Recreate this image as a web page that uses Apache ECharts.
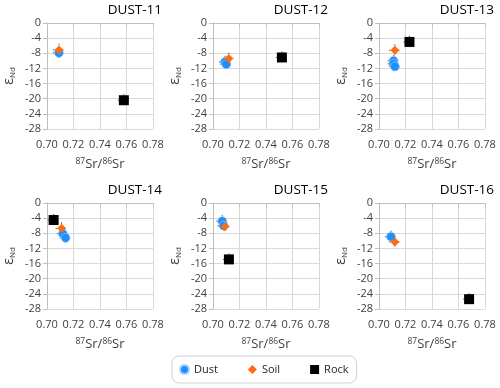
<!DOCTYPE html>
<html>
<head>
<meta charset="utf-8">
<script src="https://cdn.jsdelivr.net/npm/echarts@6/dist/echarts.min.js"></script>
<style>
	html, body { margin: 0; padding: 0; background: #fff; }
	#chart { width: 500px; height: 388px; }
</style>
</head>
<body>
<div id="chart"></div>
<script>
// panel titles
const panels = ['DUST-11', 'DUST-12', 'DUST-13', 'DUST-14', 'DUST-15', 'DUST-16'];
// [87Sr/86Sr, eNd] per panel
const dust = [
	[[0.709, -7.9]],
	[[0.709, -10.3], [0.710, -10.9]],
	[[0.711, -10.0], [0.711, -10.8], [0.712, -11.5]],
	[[0.712, -8.1], [0.714, -9.2]],
	[[0.707, -4.8], [0.708, -6.0]],
	[[0.709, -8.9]],
];
const soil = [
	[[0.709, -7.1]],
	[[0.712, -9.4]],
	[[0.712, -7.2]],
	[[0.711, -6.7]],
	[[0.709, -6.2]],
	[[0.712, -10.3]],
];
const rock = [
	[[0.758, -20.4]],
	[[0.752, -9.1]],
	[[0.723, -5.0]],
	[[0.705, -4.5]],
	[[0.712, -14.9]],
	[[0.768, -25.4]],
];
// error bars (2 sigma)
const srErr = 0.0045;
const ndErr = 1.6;
// axis ticks
const xTicks = [0.70, 0.72, 0.74, 0.76, 0.78];
const yTicks = [0, -4, -8, -12, -16, -20, -24, -28];

const lefts = [47, 213, 379];
const tops = [23, 203];
const font = '"Open Sans", "Noto Sans", sans-serif';
const labelColor = '#404040';
const colors = { Dust: '#1e8ffc', Soil: '#ff6a13', Rock: '#000000' };

const chart = echarts.init(document.getElementById('chart'));

const grids = [], xAxes = [], yAxes = [], titles = [], series = [];

panels.forEach((name, i) => {
	const col = i % 3, row = Math.floor(i / 3);
	grids.push({ left: lefts[col], top: tops[row], width: 106, height: 106 });
	titles.push({
		text: name,
		right: 500 - (lefts[col] + 115),
		top: tops[row] - 20,
		padding: 0,
		textStyle: { fontFamily: font, fontSize: 13.5, fontWeight: 'normal', color: '#000' },
	});
	xAxes.push({
		gridIndex: i,
		type: 'value',
		min: xTicks[0],
		max: xTicks[xTicks.length - 1],
		interval: 0.02,
		name: '{sup|87}{b|Sr/}{sup|86}{b|Sr}',
		nameLocation: 'middle',
		nameGap: 28,
		nameTextStyle: {
			rich: {
				b: { fontFamily: font, fontSize: 13, lineHeight: 15, color: labelColor },
				sup: { fontFamily: font, fontSize: 8.5, lineHeight: 9, verticalAlign: 'top', color: labelColor },
			},
		},
		axisLine: { show: true, lineStyle: { color: '#bfbfbf' } },
		axisTick: { show: true, length: 4, lineStyle: { color: '#bfbfbf' } },
		axisLabel: { margin: 10, fontFamily: font, fontSize: 11, color: labelColor, formatter: (v) => v.toFixed(2) },
		splitLine: { show: true, lineStyle: { color: '#d9d9d9' } },
	});
	yAxes.push({
		gridIndex: i,
		type: 'value',
		min: yTicks[yTicks.length - 1],
		max: yTicks[0],
		interval: 4,
		name: '{e|ε}{s|Nd}',
		nameLocation: 'middle',
		nameGap: 30,
		nameTextStyle: {
			rich: {
				e: { fontFamily: font, fontSize: 14, lineHeight: 16, color: labelColor },
				s: { fontFamily: font, fontSize: 8, lineHeight: 8, verticalAlign: 'bottom', color: labelColor },
			},
		},
		axisLine: { show: true, lineStyle: { color: '#bfbfbf' } },
		axisTick: { show: true, length: 4, lineStyle: { color: '#bfbfbf' } },
		axisLabel: { margin: 6, fontFamily: font, fontSize: 11, color: labelColor },
		splitLine: { show: true, lineStyle: { color: '#d9d9d9' } },
	});

	// error bars under the markers
	series.push({
		type: 'custom',
		name: 'err',
		xAxisIndex: i,
		yAxisIndex: i,
		z: 1,
		silent: true,
		data: [].concat(dust[i], soil[i], rock[i]),
		renderItem: (params, api) => {
			const x = api.value(0), y = api.value(1);
			const l = api.coord([x - srErr, y]), r = api.coord([x + srErr, y]);
			const t = api.coord([x, y + ndErr]), b = api.coord([x, y - ndErr]);
			const style = { stroke: '#595959', lineWidth: 1, lineDash: [1.5, 1.5] };
			return {
				type: 'group',
				children: [
					{ type: 'line', shape: { x1: l[0], y1: l[1], x2: r[0], y2: r[1] }, style },
					{ type: 'line', shape: { x1: t[0], y1: t[1], x2: b[0], y2: b[1] }, style },
				],
			};
		},
	});
	series.push({
		type: 'scatter', name: 'Dust', xAxisIndex: i, yAxisIndex: i, z: 3,
		symbol: 'circle', symbolSize: 9, data: dust[i],
		itemStyle: { color: colors.Dust, opacity: 1, borderColor: '#a8d2ff', borderWidth: 0.6 },
	});
	series.push({
		type: 'scatter', name: 'Soil', xAxisIndex: i, yAxisIndex: i, z: 4,
		symbol: 'diamond', symbolSize: 9, data: soil[i],
		itemStyle: { color: colors.Soil, opacity: 1 },
	});
	series.push({
		type: 'scatter', name: 'Rock', xAxisIndex: i, yAxisIndex: i, z: 4,
		symbol: 'rect', symbolSize: 10, data: rock[i],
		itemStyle: { color: colors.Rock, opacity: 1 },
	});
});

chart.setOption({
	animation: false,
	title: titles,
	grid: grids,
	xAxis: xAxes,
	yAxis: yAxes,
	legend: {
		data: [
			{ name: 'Dust', icon: 'circle' },
			{ name: 'Soil', icon: 'diamond' },
			{ name: 'Rock', icon: 'rect' },
		],
		left: 172,
		top: 356,
		padding: [8, 8, 8, 7],
		itemWidth: 9,
		itemHeight: 9,
		itemGap: 30,
		borderColor: '#d0d0d0',
		borderWidth: 1,
		borderRadius: 7,
		textStyle: { fontFamily: font, fontSize: 11, color: '#262626' },
	},
	series: series,
});
</script>
</body>
</html>
